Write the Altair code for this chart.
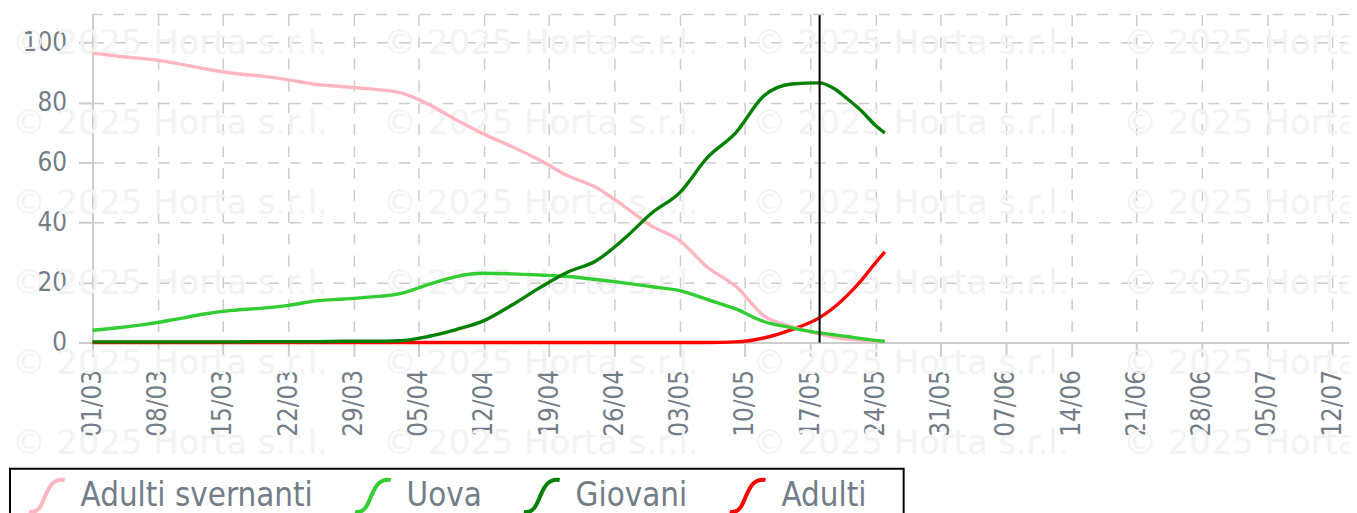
import altair as alt
import pandas as pd

# ---------------- data ----------------
start_date = "2025-03-01"
domain_end = "2025-07-13T19:00:00"
marker_date = "2025-05-18"

day_offsets = [0, 3, 6, 9, 12, 15, 18, 21, 24, 27, 30, 33, 36, 39, 42, 45, 48, 51, 54, 57,
               60, 63, 66, 69, 72, 75, 78, 79.5, 81, 82.5, 84, 85]
adulti_svernanti = [96.5, 95.4, 94.5, 93.1, 91.3, 89.8, 88.9, 87.6, 86.1, 85.3,
                    84.5, 83.3, 79.5, 74.3, 69.5, 65.3, 60.8, 55.6, 51.8, 45.5,
                    38.8, 34.0, 25.0, 18.8, 9.0, 5.3, 2.8, 1.8, 1.1, 0.8, 0.5, 0.4]
uova = [4.1, 5.0, 6.2, 7.8, 9.5, 10.7, 11.4, 12.4, 13.9, 14.5,
        15.2, 16.3, 19.3, 22.0, 23.1, 22.9, 22.5, 22.0, 21.0, 19.9,
        18.6, 17.3, 14.3, 11.2, 7.0, 4.9, 3.2, 2.6, 2.0, 1.3, 0.7, 0.4]
giovani = [0.2, 0.2, 0.2, 0.2, 0.2, 0.2, 0.3, 0.3, 0.3, 0.4,
           0.4, 0.6, 2.0, 4.3, 7.3, 12.5, 18.3, 23.5, 27.2, 34.5,
           43.2, 50.0, 61.8, 69.9, 82.2, 86.2, 86.6, 84.8, 81.2, 77.2, 72.4, 69.9]
adulti = [0, 0, 0, 0, 0, 0, 0, 0, 0, 0,
          0, 0, 0, 0, 0, 0, 0, 0, 0, 0,
          0, 0, 0, 0.2, 1.5, 4.3, 8.3, 11.6, 15.8, 20.8, 26.6, 30.2]

series_names = ["Adulti svernanti", "Uova", "Giovani", "Adulti"]
series_colors = ["#ffb6c1", "#32cd32", "#008000", "#ff0000"]
series_values = [adulti_svernanti, uova, giovani, adulti]
draw_order = ["Adulti", "Adulti svernanti", "Uova", "Giovani"]

x_tick_dates = ["2025-03-01", "2025-03-08", "2025-03-15", "2025-03-22", "2025-03-29",
                "2025-04-05", "2025-04-12", "2025-04-19", "2025-04-26", "2025-05-03",
                "2025-05-10", "2025-05-17", "2025-05-24", "2025-05-31", "2025-06-07",
                "2025-06-14", "2025-06-21", "2025-06-28", "2025-07-05", "2025-07-12"]
y_ticks = [0, 20, 40, 60, 80, 100]
y_max = 109.4

wm_text = "\u00a9 2025 Horta s.r.l."
wm_cols = [-81, 292, 664, 1037]
wm_rows = [40, 120.5, 201, 281.5, 362, 442.5]


def ms(s):
    return int(pd.Timestamp(s, tz="UTC").value // 10**6)


t0 = pd.Timestamp(start_date, tz="UTC")
rows = []
for name in draw_order:
    vals = series_values[series_names.index(name)]
    for d, v in zip(day_offsets, vals):
        rows.append({"t": int((t0 + pd.Timedelta(days=d)).value // 10**6),
                     "serie": name, "v": v})
df = pd.DataFrame(rows)

label_color = "#737d88"
grid_color = "#cccccc"
dash = [11, 11]

x_scale = alt.Scale(type="utc", domain=[ms(start_date), ms(domain_end)])
y_scale = alt.Scale(domain=[0, y_max], nice=False)

x_axis = alt.Axis(values=[ms(s) for s in x_tick_dates],
                  labelExpr="utcFormat(datum.value, '%d/%m')",
                  labelAngle=-90, labelFont="DejaVu Sans Condensed", labelFontSize=26,
                  labelColor=label_color, labelPadding=13, tickSize=14, tickColor=grid_color,
                  tickWidth=2, domainColor=grid_color, domainWidth=2, grid=True,
                  gridColor=grid_color, gridDash=dash, gridWidth=1.5, title=None,
                  labelOverlap=False)
y_axis = alt.Axis(values=y_ticks, labelFont="DejaVu Sans Condensed", labelFontSize=26,
                  labelColor=label_color, labelPadding=12, tickSize=14, tickColor=grid_color,
                  tickWidth=2, domainColor=grid_color, domainWidth=2, grid=True,
                  gridColor=grid_color, gridDash=dash, gridWidth=1.5, title=None)

legend = alt.Legend(title="\u00a0", titleOrient="right", titlePadding=32, titleFontSize=20,
                    orient="none", legendX=-83, legendY=457, direction="horizontal",
                    symbolType="M-0.9,0.8 C-0.4,0.9 -0.25,0.4 -0.08,0 C0.1,-0.4 0.3,-0.9 0.9,-0.8",
                    symbolSize=1600, symbolStrokeWidth=4, symbolOffset=10,
                    symbolFillColor="transparent", labelOffset=12, columnPadding=28,
                    padding=5, labelFont="DejaVu Sans Condensed", labelFontSize=33,
                    labelColor=label_color, labelLimit=0, strokeColor="black",
                    fillColor="white")

lines = alt.Chart(df).mark_line(strokeWidth=3.4, interpolate="monotone").encode(
    x=alt.X("t:T", scale=x_scale, axis=x_axis),
    y=alt.Y("v:Q", scale=y_scale, axis=y_axis),
    color=alt.Color("serie:N", scale=alt.Scale(domain=series_names, range=series_colors),
                    legend=legend),
)

marker = alt.Chart(pd.DataFrame({"t": [ms(marker_date)]})).mark_rule(
    color="black", strokeWidth=2).encode(x=alt.X("t:T", scale=x_scale))

top_line = alt.Chart(pd.DataFrame({"v": [y_max]})).mark_rule(
    color=grid_color, strokeWidth=1.5, strokeDash=dash).encode(y=alt.Y("v:Q", scale=y_scale))

inner = alt.layer(lines, marker, top_line)

wm_df = pd.DataFrame([{"px": c, "py": r} for r in wm_rows for c in wm_cols])
watermark = alt.Chart(wm_df).mark_text(
    text=wm_text, align="left", baseline="alphabetic", font="DejaVu Sans",
    fontSize=34, color="#f3f3f3").encode(
    x=alt.X("px:Q", scale=None, axis=None),
    y=alt.Y("py:Q", scale=None, axis=None))

chart = alt.layer(watermark, inner).resolve_scale(x="independent", y="independent").properties(
    width=1264, height=330,
    autosize=alt.AutoSizeParams(type="none"),
    padding={"left": 85, "top": 5, "right": 0, "bottom": 170},
).configure_view(stroke=None).configure_legend(strokeWidth=2)

chart.save("out.html", embed_options={"renderer": "svg", "actions": False})
